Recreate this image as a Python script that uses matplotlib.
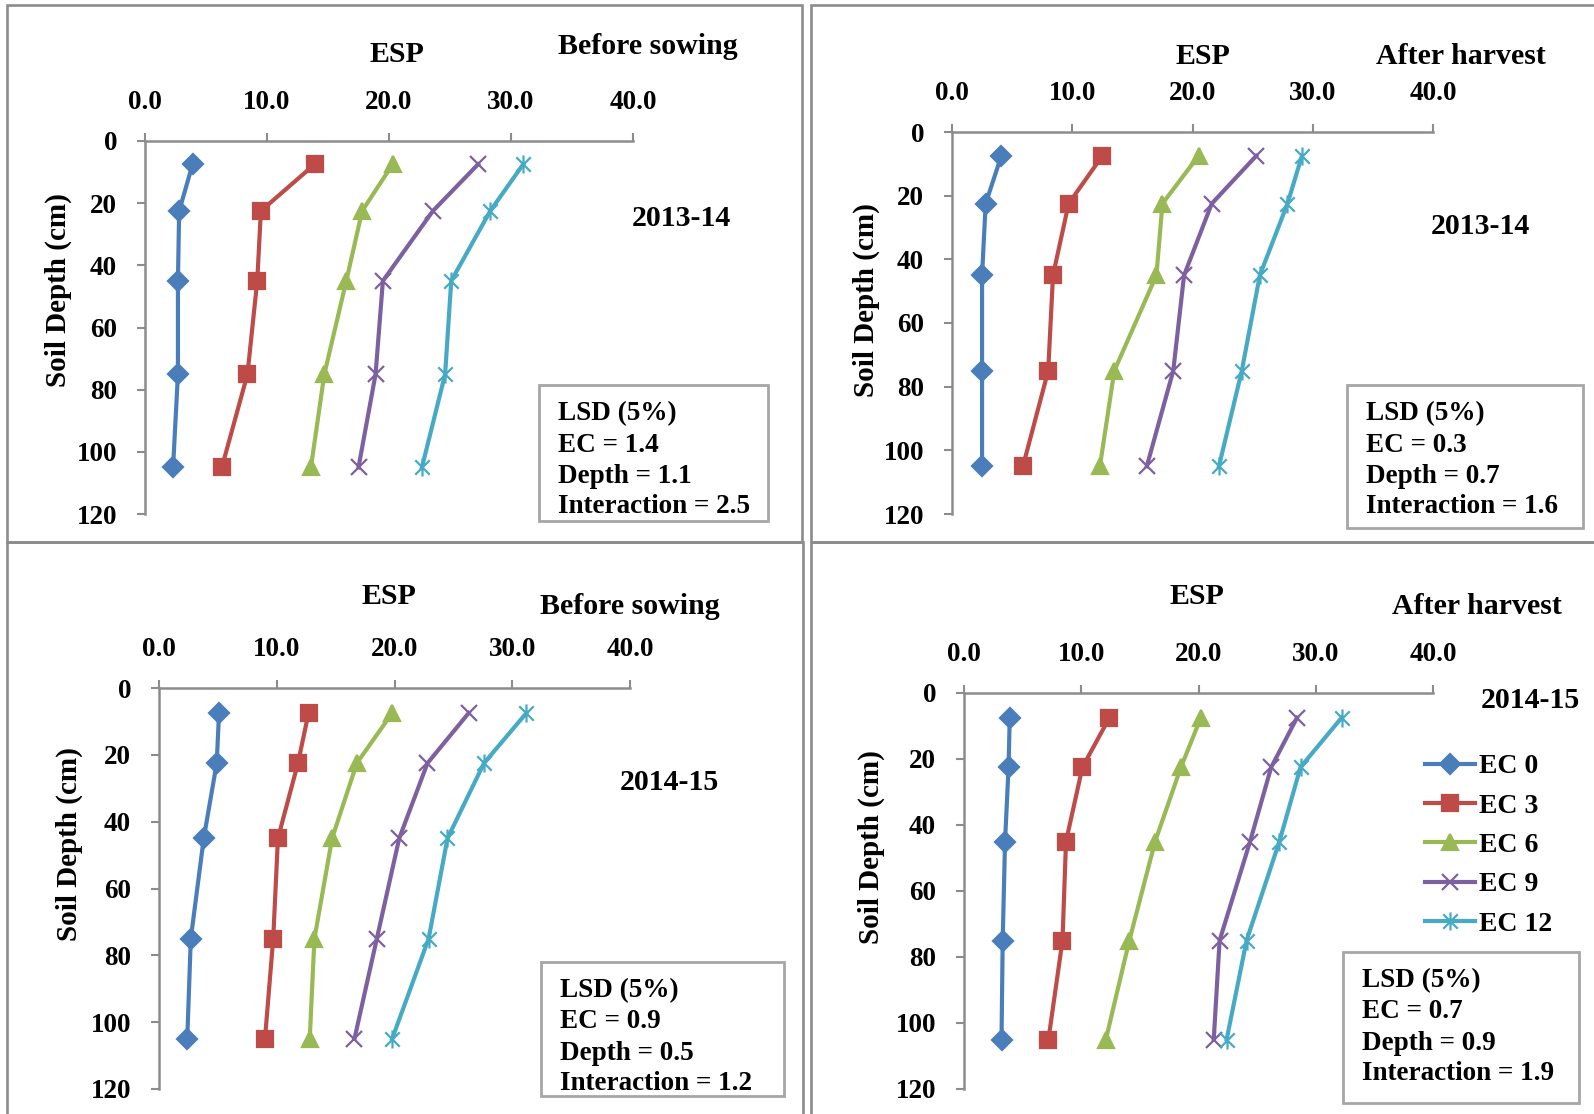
import matplotlib
matplotlib.use("Agg")
import matplotlib.pyplot as plt
from matplotlib.path import Path
from matplotlib.patches import Rectangle

plt.rcParams['font.family'] = ['Liberation Serif', 'DejaVu Serif']
plt.rcParams['font.weight'] = 'bold'

W, H = 1594, 1114
DPI = 100

# Soil sampling depths (cm), midpoints of the layers
depths = [7.5, 22.5, 45, 75, 105]
series_names = ["EC 0", "EC 3", "EC 6", "EC 9", "EC 12"]

# ESP values per EC treatment, 2013-14 before sowing
esp_1314_before = [
    [3.9, 2.8, 2.7, 2.7, 2.3],
    [13.9, 9.5, 9.2, 8.4, 6.3],
    [20.3, 17.8, 16.5, 14.7, 13.6],
    [27.3, 23.6, 19.5, 18.9, 17.5],
    [31.0, 28.3, 25.1, 24.6, 22.7],
]
# 2013-14 after harvest
esp_1314_after = [
    [4.1, 2.8, 2.5, 2.5, 2.5],
    [12.5, 9.7, 8.4, 8.0, 5.9],
    [20.5, 17.5, 17.0, 13.5, 12.3],
    [25.3, 21.6, 19.3, 18.4, 16.2],
    [29.1, 27.9, 25.6, 24.1, 22.2],
]
# 2014-15 before sowing
esp_1415_before = [
    [5.1, 4.9, 3.8, 2.7, 2.4],
    [12.7, 11.8, 10.1, 9.7, 9.0],
    [19.8, 16.8, 14.7, 13.2, 12.8],
    [26.3, 22.8, 20.4, 18.5, 16.6],
    [31.2, 27.6, 24.5, 22.9, 19.8],
]
# 2014-15 after harvest
esp_1415_after = [
    [3.9, 3.8, 3.5, 3.3, 3.2],
    [12.4, 10.1, 8.7, 8.4, 7.2],
    [20.2, 18.5, 16.3, 14.1, 12.1],
    [28.4, 26.2, 24.4, 21.8, 21.3],
    [32.2, 28.7, 26.9, 24.1, 22.4],
]

x_ticks = [0, 10, 20, 30, 40]
y_ticks = [0, 20, 40, 60, 80, 100, 120]

lsd_1314_before = ["1.4", "1.1", "2.5"]
lsd_1314_after = ["0.3", "0.7", "1.6"]
lsd_1415_before = ["0.9", "0.5", "1.2"]
lsd_1415_after = ["0.7", "0.9", "1.9"]

colors = ["#4A7EBB", "#BE4B48", "#98B954", "#7D60A0", "#46AAC5"]

# asterisk marker: an x with a vertical stroke through it
ast_path = Path(
    [(-1, -1), (1, 1), (-1, 1), (1, -1), (0, -1.25), (0, 1.25)],
    [Path.MOVETO, Path.LINETO, Path.MOVETO, Path.LINETO, Path.MOVETO, Path.LINETO],
)
markers = ["D", "s", "^", "x", ast_path]
msizes = [10, 12, 12, 12, 13]

fig = plt.figure(figsize=(W / DPI, H / DPI), dpi=DPI)


def fx(x):
    return x / W


def fy(y):
    return 1 - y / H


GRAY = "#8C8C8C"

# panel frames (pixel boxes: left, top, right, bottom)
frames = [(7, 5, 802, 542), (811, 5, 1600, 542), (7, 542, 803, 1125), (811, 542, 1600, 1125)]
for (x0, y0, x1, y1) in frames:
    fig.patches.append(Rectangle((fx(x0), fy(y1)), fx(x1 - x0), (y1 - y0) / H,
                                 transform=fig.transFigure, fill=False,
                                 edgecolor=GRAY, linewidth=1.9))

panels = [
    dict(ax=(145, 141, 633, 514), data=esp_1314_before, lsd=lsd_1314_before,
         esp=(397, 55), stage="Before sowing", stage_xy=(648, 47),
         year="2013-14", year_xy=(681, 219), ylab=(58, 290),
         box=(539, 385, 768, 521)),
    dict(ax=(952, 132, 1433, 514), data=esp_1314_after, lsd=lsd_1314_after,
         esp=(1203, 57), stage="After harvest", stage_xy=(1461, 57),
         year="2013-14", year_xy=(1480, 226), ylab=(866, 300),
         box=(1347, 385, 1583, 528)),
    dict(ax=(159, 688, 630, 1089), data=esp_1415_before, lsd=lsd_1415_before,
         esp=(389, 596), stage="Before sowing", stage_xy=(630, 607),
         year="2014-15", year_xy=(669, 783), ylab=(69, 844),
         box=(541, 962, 784, 1096)),
    dict(ax=(964, 693, 1433, 1089), data=esp_1415_after, lsd=lsd_1415_after,
         esp=(1197, 596), stage="After harvest", stage_xy=(1477, 606),
         year="2014-15", year_xy=(1530, 700), ylab=(871, 847),
         box=(1343, 952, 1579, 1103)),
]

FS_TICK = 19.5
FS_TITLE = 21.5
FS_YLAB = 21
FS_BOX = 19.5

axes = []
for p in panels:
    x0, y0, x1, y1 = p["ax"]
    ax = fig.add_axes([fx(x0), fy(y1), (x1 - x0) / W, (y1 - y0) / H])
    ax.patch.set_alpha(0)
    for vals, c, m, ms in zip(p["data"], colors, markers, msizes):
        mfc = c if m in ("D", "s", "^") else "none"
        ax.plot(vals, depths, color=c, linewidth=3, marker=m, markersize=ms,
                markerfacecolor=mfc, markeredgecolor=c, markeredgewidth=1.6,
                clip_on=False)
    ax.set_xlim(0, 40)
    ax.set_ylim(120, 0)
    ax.xaxis.tick_top()
    ax.set_xticks(x_ticks)
    ax.set_xticklabels([f"{v:.1f}" for v in x_ticks])
    ax.set_yticks(y_ticks)
    ax.set_yticklabels([str(v) for v in y_ticks])
    for s in ("right", "bottom"):
        ax.spines[s].set_visible(False)
    for s in ("left", "top"):
        ax.spines[s].set_color(GRAY)
        ax.spines[s].set_linewidth(1.8)
    ax.tick_params(axis="x", direction="out", length=6, width=1.5, color=GRAY,
                   pad=13, labelsize=FS_TICK)
    ax.tick_params(axis="y", direction="out", length=6, width=1.5, color=GRAY,
                   pad=14, labelsize=FS_TICK)
    for lab in ax.get_xticklabels() + ax.get_yticklabels():
        lab.set_fontweight("bold")
    axes.append(ax)

    fig.text(fx(p["esp"][0]), fy(p["esp"][1]), "ESP", ha="center", va="center",
             fontsize=FS_TITLE, fontweight="bold")
    fig.text(fx(p["stage_xy"][0]), fy(p["stage_xy"][1]), p["stage"], ha="center",
             va="center", fontsize=FS_TITLE, fontweight="bold")
    fig.text(fx(p["year_xy"][0]), fy(p["year_xy"][1]), p["year"], ha="center",
             va="center", fontsize=FS_TITLE, fontweight="bold")
    fig.text(fx(p["ylab"][0]), fy(p["ylab"][1]), "Soil Depth (cm)", ha="center",
             va="center", rotation=90, fontsize=FS_YLAB, fontweight="bold")

    bx0, by0, bx1, by1 = p["box"]
    fig.patches.append(Rectangle((fx(bx0), fy(by1)), (bx1 - bx0) / W, (by1 - by0) / H,
                                 transform=fig.transFigure, facecolor="white",
                                 edgecolor="#A6A6A6", linewidth=2.0, zorder=5))
    lines = ["LSD (5%)", f"EC = {p['lsd'][0]}", f"Depth = {p['lsd'][1]}",
             f"Interaction = {p['lsd'][2]}"]
    for i, t in enumerate(lines):
        fig.text(fx(bx0 + 19), fy(by0 + 29 + 31 * i), t, ha="left",
                 va="center", fontsize=FS_BOX, fontweight="bold", zorder=6)

# legend in the last panel
handles = axes[3].get_lines()
leg = fig.legend(handles, series_names, loc="upper left",
                 bbox_to_anchor=(fx(1425), fy(754)), frameon=False,
                 prop=dict(size=20, weight="bold"), handlelength=1.8,
                 handletextpad=0.15, labelspacing=0.5, borderaxespad=0,
                 borderpad=0)

fig.savefig("out.png", dpi=DPI)
